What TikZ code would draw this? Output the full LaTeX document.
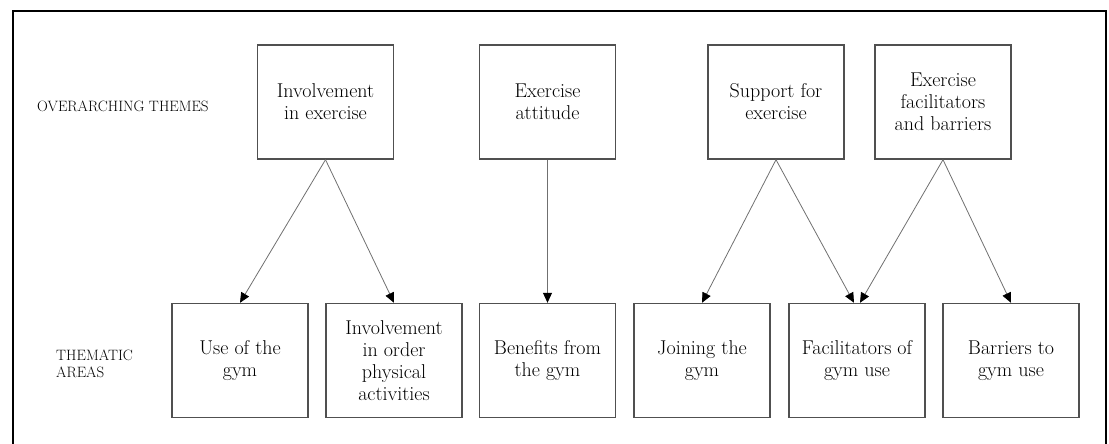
\documentclass[tikz,border=0pt]{standalone}
\usepackage{fontspec}
\usetikzlibrary{arrows.meta}
\definecolor{boxline}{HTML}{505050}
\definecolor{arrline}{HTML}{707070}
\begin{document}
\begin{tikzpicture}[x=1pt,y=-1pt,
  themebox/.style={draw=boxline,line width=1.4pt,minimum width=136pt,minimum height=114pt,
    inner sep=2pt,align=center,font=\fontsize{20}{22}\selectfont},
  sidelabel/.style={align=left,inner sep=0pt,font=\fontsize{15}{17.5}\selectfont},
  link/.style={draw=arrline,line width=0.8pt,
    -{Triangle[length=10pt,width=9pt,color=black]}}]
\useasboundingbox (0,0) rectangle (1109,444);
\draw[line width=2pt] (12.5,11) rectangle (1106,460);

\node[sidelabel,anchor=west] (lt) at (37,106) {OVERARCHING THEMES};
\node[sidelabel,anchor=west] (lb) at (56,364) {THEMATIC\\AREAS};

\node[themebox] (t1) at (325.5,102) {Involvement\\in exercise};
\node[themebox] (t2) at (547.5,102) {Exercise\\attitude};
\node[themebox] (t3) at (776,102) {Support for\\exercise};
\node[themebox] (t4) at (943,102) {Exercise\\facilitators\\and barriers};

\node[themebox] (a) at (240,360.5) {Use of the\\gym};
\node[themebox] (b) at (394,360.5) {Involvement\\in order\\physical\\activities};
\node[themebox] (c) at (547.5,360.5) {Benefits from\\the gym};
\node[themebox] (d) at (702,360.5) {Joining the\\gym};
\node[themebox] (e) at (857,360.5) {Facilitators of\\gym use};
\node[themebox] (f) at (1011,360.5) {Barriers to\\gym use};

\draw[link] (t1.south) -- (a.north);
\draw[link] (t1.south) -- (b.north);
\draw[link] (t2.south) -- (c.north);
\draw[link] (t3.south) -- (d.north);
\draw[link] (t3.south) -- ([xshift=-3pt]e.north);
\draw[link] (t4.south) -- ([xshift=3pt]e.north);
\draw[link] (t4.south) -- (f.north);
\end{tikzpicture}
\end{document}
